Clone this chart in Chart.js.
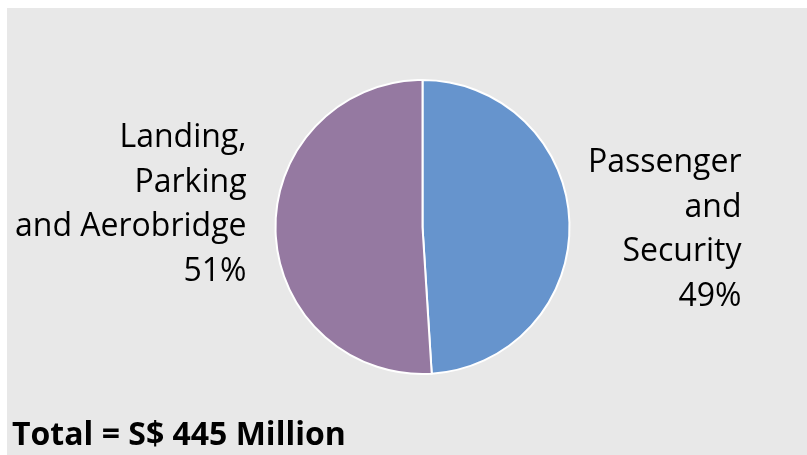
<!DOCTYPE html>
<html>
<head>
<meta charset="utf-8">
<script src="https://cdn.jsdelivr.net/npm/chart.js"></script>
<style>
  html, body { margin: 0; padding: 0; background: #ffffff; }
  #panel {
    position: absolute; left: 7px; top: 8px;
    width: 800px; height: 447px;
    background: #e8e8e8;
  }
  #chart { display: block; }
</style>
</head>
<body>
<div id="panel"><canvas id="chart" width="800" height="447"></canvas></div>
<script>
// Revenue split
const categories = ['Passenger\nand\nSecurity', 'Landing,\nParking\nand Aerobridge'];
const shares = [49, 51];
const sliceColors = ['#6694cd', '#9579a1'];
const totalText = 'Total = S$ 445 Million';

const FONT = '"Open Sans", "Noto Sans", sans-serif';

// Draws the category labels beside each slice and the total underneath
const pieLabels = {
  id: 'pieLabels',
  afterDraw(chart) {
    const ctx = chart.ctx;
    const arcs = chart.getDatasetMeta(0).data;
    ctx.save();
    ctx.fillStyle = '#000';
    ctx.textAlign = 'right';
    ctx.textBaseline = 'middle';
    ctx.font = '32px ' + FONT;
    const lineH = 44.5;

    arcs.forEach((arc, i) => {
      const { x, y, outerRadius } = arc.getProps(['x', 'y', 'outerRadius'], true);
      const mid = (arc.startAngle + arc.endAngle) / 2;
      const lines = categories[i].split('\n').concat(shares[i] + '%');
      let right, top;
      if (Math.cos(mid) >= 0) {
        // right-hand side
        right = x + outerRadius + 172;
        top = y - 64;
      } else {
        right = x - outerRadius - 29;
        top = y - 89;
      }
      lines.forEach((t, k) => ctx.fillText(t, right, top + k * lineH));
    });

    ctx.textAlign = 'left';
    ctx.font = 'bold 32px ' + FONT;
    ctx.fillText(totalText, 5, 428);
    ctx.restore();
  }
};

new Chart(document.getElementById('chart'), {
  type: 'pie',
  data: {
    labels: categories,
    datasets: [{
      data: shares,
      backgroundColor: sliceColors,
      borderColor: '#ffffff',
      borderWidth: 2
    }]
  },
  options: {
    responsive: false,
    animation: false,
    layout: { padding: { left: 31, right: 0, top: 71, bottom: 80 } },
    plugins: {
      legend: { display: false },
      tooltip: { enabled: false }
    }
  },
  plugins: [pieLabels]
});
</script>
</body>
</html>
